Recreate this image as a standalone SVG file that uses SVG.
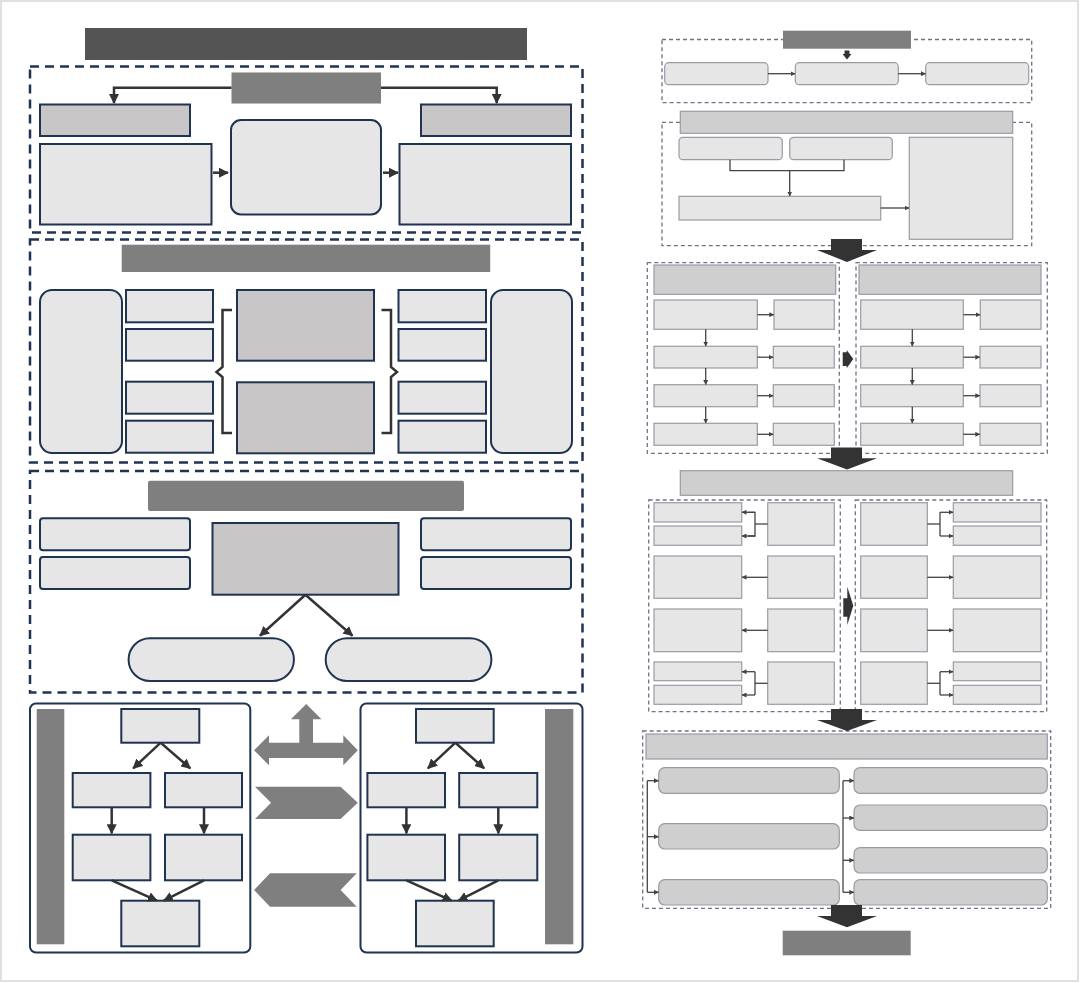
<svg xmlns="http://www.w3.org/2000/svg" width="1080" height="983" viewBox="0 0 1080 983">
<style>
.dl{fill:none;stroke:#1f3352;stroke-width:2.5;stroke-dasharray:9 6}
.dr{fill:none;stroke:#6f7385;stroke-width:1.3;stroke-dasharray:4 3}
.bl{fill:#e6e6e6;stroke:#1f3352;stroke-width:2}
.bm{fill:#c8c6c7;stroke:#1f3352;stroke-width:2}
.gr{fill:#7f7f7f}
.rl{fill:#e6e6e6;stroke:#9a9ba5;stroke-width:1.2}
.rm{fill:#d0cfd0;stroke:#9a9ba5;stroke-width:1.2}
.cl{fill:none;stroke:#333;stroke-width:2.5}
.cr{fill:none;stroke:#444;stroke-width:1.3}
.da{fill:#333}
</style>
<defs>
<marker id="aL" viewBox="0 0 10 10" refX="9" refY="5" markerWidth="10" markerHeight="10" markerUnits="userSpaceOnUse" orient="auto"><path d="M0,0 L10,5 L0,10 z" fill="#333"/></marker>
<marker id="aR" viewBox="0 0 10 10" refX="9" refY="5" markerWidth="5" markerHeight="5" markerUnits="userSpaceOnUse" orient="auto"><path d="M0,0 L10,5 L0,10 z" fill="#444"/></marker>
</defs>
<rect x="0" y="0" width="1080" height="983" fill="#fff"/>
<rect x="1" y="1" width="1077" height="980" fill="none" stroke="#e0e0e0" stroke-width="2"/>

<g id="left-title"><rect x="85" y="28" width="442" height="32" fill="#545454"/></g>

<!-- Section 1 -->
<g id="sec1"><rect class="dl" x="30" y="66.5" width="552.5" height="166"/></g>
<g id="s1-head"><rect class="gr" x="231.5" y="72.5" width="149.5" height="31"/></g>
<g id="s1-l-top"><rect class="bm" x="40" y="104.5" width="150" height="31.5"/></g>
<g id="s1-r-top"><rect class="bm" x="421" y="104.5" width="150" height="31.5"/></g>
<g id="s1-l-big"><rect class="bl" x="40" y="144" width="171.5" height="80.5"/></g>
<g id="s1-center"><rect class="bl" x="231" y="120" width="150" height="94.5" rx="10"/></g>
<g id="s1-r-big"><rect class="bl" x="399.5" y="144" width="171.5" height="80.5"/></g>

<!-- Section 2 -->
<g id="sec2"><rect class="dl" x="30" y="239.5" width="552.5" height="223"/></g>
<g id="s2-head"><rect class="gr" x="121.7" y="244.7" width="368.5" height="27.3"/></g>
<g id="s2-l-tall"><rect class="bl" x="40" y="290" width="82" height="163" rx="12"/></g>
<g id="s2-l1"><rect class="bl" x="126" y="290" width="87" height="32.3"/></g>
<g id="s2-l2"><rect class="bl" x="126" y="329" width="87" height="31.7"/></g>
<g id="s2-l3"><rect class="bl" x="126" y="381.7" width="87" height="32"/></g>
<g id="s2-l4"><rect class="bl" x="126" y="420.7" width="87" height="32"/></g>
<g id="s2-c1"><rect class="bm" x="237" y="290" width="137" height="70.7"/></g>
<g id="s2-c2"><rect class="bm" x="237" y="382.3" width="137" height="71"/></g>
<g id="s2-r1"><rect class="bl" x="398.5" y="290" width="87.5" height="32.3"/></g>
<g id="s2-r2"><rect class="bl" x="398.5" y="329" width="87.5" height="31.7"/></g>
<g id="s2-r3"><rect class="bl" x="398.5" y="381.7" width="87.5" height="32"/></g>
<g id="s2-r4"><rect class="bl" x="398.5" y="420.7" width="87.5" height="32"/></g>
<g id="s2-r-tall"><rect class="bl" x="491" y="290" width="81" height="163" rx="12"/></g>

<!-- Section 3 -->
<g id="sec3"><rect class="dl" x="30" y="471" width="552.5" height="221.5"/></g>
<g id="s3-head"><rect class="gr" x="148" y="480.7" width="316" height="30.3" rx="2"/></g>
<g id="s3-l1"><rect class="bl" x="40" y="518.3" width="150" height="32" rx="3"/></g>
<g id="s3-l2"><rect class="bl" x="40" y="557" width="150" height="32" rx="3"/></g>
<g id="s3-r1"><rect class="bl" x="421" y="518.3" width="150" height="32" rx="3"/></g>
<g id="s3-r2"><rect class="bl" x="421" y="557" width="150" height="32" rx="3"/></g>
<g id="s3-center"><rect class="bm" x="212.5" y="523" width="186" height="71.7"/></g>
<g id="s3-pill-l"><rect class="bl" x="128.6" y="638.3" width="165.3" height="42.7" rx="21.3"/></g>
<g id="s3-pill-r"><rect class="bl" x="325.7" y="638.3" width="165.7" height="42.7" rx="21.3"/></g>

<!-- Bottom panels -->
<g id="panel-l"><rect x="30" y="703.5" width="220.3" height="249" rx="6" fill="#fff" stroke="#1f3352" stroke-width="2"/></g>
<g id="bar-l"><rect class="gr" x="36.7" y="709" width="27.6" height="235.3"/></g>
<g id="pl-top"><rect class="bl" x="121.3" y="709" width="78" height="33.7"/></g>
<g id="pl-a"><rect class="bl" x="72.7" y="773" width="77.7" height="34.3"/></g>
<g id="pl-b"><rect class="bl" x="165" y="773" width="77" height="34.3"/></g>
<g id="pl-c"><rect class="bl" x="72.7" y="834.7" width="77.7" height="45.6"/></g>
<g id="pl-d"><rect class="bl" x="165" y="834.7" width="77" height="45.6"/></g>
<g id="pl-bot"><rect class="bl" x="121.3" y="900.7" width="78" height="45.6"/></g>

<g id="panel-r"><rect x="360.5" y="703.5" width="222" height="249" rx="6" fill="#fff" stroke="#1f3352" stroke-width="2"/></g>
<g id="bar-r"><rect class="gr" x="545" y="709" width="28.3" height="235.3"/></g>
<g id="pr-top"><rect class="bl" x="416" y="709" width="77.7" height="33.7"/></g>
<g id="pr-a"><rect class="bl" x="367.4" y="773" width="77.6" height="34.3"/></g>
<g id="pr-b"><rect class="bl" x="459.2" y="773" width="78.1" height="34.3"/></g>
<g id="pr-c"><rect class="bl" x="367.4" y="834.7" width="77.6" height="45.6"/></g>
<g id="pr-d"><rect class="bl" x="459.2" y="834.7" width="78.1" height="45.6"/></g>
<g id="pr-bot"><rect class="bl" x="416" y="900.7" width="77.7" height="45.6"/></g>

<g id="mid-arrows">
<polygon class="gr" points="306.2,704 321.5,719.3 313,719.3 313,742.7 343.3,742.7 343.3,735.3 357.8,750.3 343.3,765.3 343.3,758 269,758 269,765.3 254.1,750.3 269,735.3 269,742.7 299.3,742.7 299.3,719.3 290.9,719.3"/>
<polygon class="gr" points="255,786.7 340.6,786.7 357.8,802.8 340.6,819 255,819 271,802.8"/>
<polygon class="gr" points="254.1,890 270,873.3 356.7,873.3 340.6,890 356.7,906.7 270,906.7"/>
</g>

<!-- Right side -->
<g id="secA"><rect class="dr" x="662" y="39.5" width="369.7" height="63.2"/></g>
<g id="A-head"><rect class="gr" x="783" y="30.7" width="128" height="18"/></g>
<g id="A1"><rect class="rl" x="664.7" y="62.7" width="103.3" height="22" rx="4"/></g>
<g id="A2"><rect class="rl" x="795.3" y="62.7" width="103" height="22" rx="4"/></g>
<g id="A3"><rect class="rl" x="925.7" y="62.7" width="103" height="22" rx="4"/></g>

<g id="secB"><rect class="dr" x="662" y="122.3" width="369.7" height="123.4"/></g>
<g id="B-head"><rect class="rm" x="680.3" y="111.3" width="332.4" height="22"/></g>
<g id="B1"><rect class="rl" x="679" y="137.3" width="103.3" height="22.4" rx="4"/></g>
<g id="B2"><rect class="rl" x="789.7" y="137.3" width="102.6" height="22.4" rx="4"/></g>
<g id="B3"><rect class="rl" x="679" y="196.3" width="201.7" height="23.7"/></g>
<g id="B4"><rect class="rl" x="909.3" y="137.3" width="103.4" height="102"/></g>

<g id="secC-l"><rect class="dr" x="647.3" y="262.7" width="192" height="190.6"/></g>
<g id="secC-r"><rect class="dr" x="856" y="262.7" width="191.3" height="190.6"/></g>
<g id="C-head-l"><rect class="rm" x="654" y="265" width="181.7" height="29.3"/></g>
<g id="C-head-r"><rect class="rm" x="859" y="265" width="182" height="29.3"/></g>
<g id="C-l1"><rect class="rl" x="654" y="300" width="103.3" height="29.3"/><rect class="rl" x="774" y="300" width="60.3" height="29.3"/></g>
<g id="C-l2"><rect class="rl" x="654" y="346.3" width="103.3" height="21.7"/><rect class="rl" x="773.3" y="346.3" width="61" height="21.7"/></g>
<g id="C-l3"><rect class="rl" x="654" y="384.7" width="103.3" height="22"/><rect class="rl" x="773.3" y="384.7" width="61" height="22"/></g>
<g id="C-l4"><rect class="rl" x="654" y="423.3" width="103.3" height="22"/><rect class="rl" x="773.3" y="423.3" width="61" height="22"/></g>
<g id="C-r1"><rect class="rl" x="860.7" y="300" width="102.6" height="29.3"/><rect class="rl" x="980.3" y="300" width="60.7" height="29.3"/></g>
<g id="C-r2"><rect class="rl" x="860.7" y="346.3" width="102.6" height="21.7"/><rect class="rl" x="980" y="346.3" width="61" height="21.7"/></g>
<g id="C-r3"><rect class="rl" x="860.7" y="384.7" width="102.6" height="22"/><rect class="rl" x="980" y="384.7" width="61" height="22"/></g>
<g id="C-r4"><rect class="rl" x="860.7" y="423.3" width="102.6" height="22"/><rect class="rl" x="980" y="423.3" width="61" height="22"/></g>

<g id="D-head"><rect class="rm" x="680.3" y="470.7" width="332.4" height="24.6"/></g>
<g id="secD-l"><rect class="dr" x="648.7" y="500" width="191.6" height="211.7"/></g>
<g id="secD-r"><rect class="dr" x="855.3" y="500" width="191.4" height="211.7"/></g>
<g id="D-l1"><rect class="rl" x="654" y="502.7" width="87.7" height="19.3"/><rect class="rl" x="654" y="526" width="87.7" height="19.3"/><rect class="rl" x="767.7" y="502.7" width="66.6" height="42.6"/></g>
<g id="D-l2"><rect class="rl" x="654" y="556" width="87.7" height="42.3"/><rect class="rl" x="767.7" y="556" width="66.6" height="42.3"/></g>
<g id="D-l3"><rect class="rl" x="654" y="609" width="87.7" height="42.7"/><rect class="rl" x="767.7" y="609" width="66.6" height="42.7"/></g>
<g id="D-l4"><rect class="rl" x="654" y="662" width="87.7" height="18.7"/><rect class="rl" x="654" y="685.3" width="87.7" height="19"/><rect class="rl" x="767.7" y="662" width="66.6" height="42.3"/></g>
<g id="D-r1"><rect class="rl" x="860.7" y="502.7" width="66.6" height="42.6"/><rect class="rl" x="953.3" y="502.7" width="87.7" height="19.3"/><rect class="rl" x="953.3" y="526" width="87.7" height="19.3"/></g>
<g id="D-r2"><rect class="rl" x="860.7" y="556" width="66.6" height="42.3"/><rect class="rl" x="953.3" y="556" width="87.7" height="42.3"/></g>
<g id="D-r3"><rect class="rl" x="860.7" y="609" width="66.6" height="42.7"/><rect class="rl" x="953.3" y="609" width="87.7" height="42.7"/></g>
<g id="D-r4"><rect class="rl" x="860.7" y="662" width="66.6" height="42.3"/><rect class="rl" x="953.3" y="662" width="87.7" height="18.7"/><rect class="rl" x="953.3" y="685.3" width="87.7" height="19"/></g>

<g id="secE"><rect class="dr" x="642.7" y="731" width="408" height="177.3"/></g>
<g id="E-head"><rect class="rm" x="646" y="734" width="401.3" height="25"/></g>
<g id="E-l1"><rect class="rm" x="658.7" y="767.7" width="180.6" height="25.6" rx="6"/></g>
<g id="E-l2"><rect class="rm" x="658.7" y="823.7" width="180.6" height="25.3" rx="6"/></g>
<g id="E-l3"><rect class="rm" x="658.7" y="879.7" width="180.6" height="25.3" rx="6"/></g>
<g id="E-r1"><rect class="rm" x="854" y="767.7" width="193.3" height="25.6" rx="6"/></g>
<g id="E-r2"><rect class="rm" x="854" y="805" width="193.3" height="25.3" rx="6"/></g>
<g id="E-r3"><rect class="rm" x="854" y="847.7" width="193.3" height="25.3" rx="6"/></g>
<g id="E-r4"><rect class="rm" x="854" y="879.7" width="193.3" height="25.3" rx="6"/></g>
<g id="footer"><rect class="gr" x="782.7" y="930.7" width="128" height="24.6"/></g>

<g id="block-arrows">
<polygon class="da" points="844.5,50.5 849.5,50.5 849.5,54 851.5,54 847,59.5 842.5,54 844.5,54"/>
<polygon class="da" points="831,239 862,239 862,250 877,250 847,262 817,250 831,250"/>
<polygon class="da" points="831,447.5 862,447.5 862,458.3 877,458.3 847,469.5 817,458.3 831,458.3"/>
<polygon class="da" points="831,709 862,709 862,720 877,720 847,731 817,720 831,720"/>
<polygon class="da" points="831,905 862,905 862,916 877,916 847,927.3 817,916 831,916"/>
<polygon class="da" points="842.7,352.3 846.7,352.3 846.7,350 853.3,359 846.7,368.3 846.7,366 842.7,366"/>
<polygon class="da" points="843.3,598.3 847.3,598.3 847.3,586.7 853.3,605.7 847.3,625 847.3,616.7 843.3,616.7"/>
</g>

<g id="connectors">
<polyline class="cl" points="231.5,87.7 114,87.7 114,103" marker-end="url(#aL)"/>
<polyline class="cl" points="381,87.7 496.7,87.7 496.7,103" marker-end="url(#aL)"/>
<line class="cl" x1="213" y1="172.7" x2="228" y2="172.7" stroke-width="4" marker-end="url(#aL)"/>
<line class="cl" x1="383" y1="172.7" x2="398" y2="172.7" stroke-width="4" marker-end="url(#aL)"/>
<path class="cl" stroke-width="3" d="M232,310 H222.5 V367 L216.5,372 L222.5,377 V433 H232"/>
<path class="cl" stroke-width="3" d="M381.5,310 H391 V367 L397,372 L391,377 V433 H381.5"/>
<line class="cl" x1="305.4" y1="594.7" x2="260" y2="635.7" marker-end="url(#aL)"/>
<line class="cl" x1="305.4" y1="594.7" x2="352.5" y2="635.7" marker-end="url(#aL)"/>
<line class="cl" x1="160.7" y1="742.7" x2="133.2" y2="768.3" marker-end="url(#aL)"/>
<line class="cl" x1="160.7" y1="742.7" x2="190.2" y2="768.3" marker-end="url(#aL)"/>
<line class="cl" x1="111.7" y1="807.3" x2="111.7" y2="833.3" marker-end="url(#aL)"/>
<line class="cl" x1="204" y1="807.3" x2="204" y2="833.3" marker-end="url(#aL)"/>
<line class="cl" x1="111.7" y1="880.3" x2="156.9" y2="900.7" marker-end="url(#aL)"/>
<line class="cl" x1="204" y1="880.3" x2="163.8" y2="900.7" marker-end="url(#aL)"/>
<line class="cl" x1="455.4" y1="742.7" x2="427.9" y2="768.3" marker-end="url(#aL)"/>
<line class="cl" x1="455.4" y1="742.7" x2="484.1" y2="768.3" marker-end="url(#aL)"/>
<line class="cl" x1="406.4" y1="807.3" x2="406.4" y2="833.3" marker-end="url(#aL)"/>
<line class="cl" x1="498.3" y1="807.3" x2="498.3" y2="833.3" marker-end="url(#aL)"/>
<line class="cl" x1="406.4" y1="880.3" x2="451.6" y2="900.7" marker-end="url(#aL)"/>
<line class="cl" x1="498.3" y1="880.3" x2="458.5" y2="900.7" marker-end="url(#aL)"/>

<line class="cr" x1="768" y1="73.7" x2="795" y2="73.7" marker-end="url(#aR)"/>
<line class="cr" x1="898.3" y1="73.7" x2="925.5" y2="73.7" marker-end="url(#aR)"/>
<polyline class="cr" points="730,159.7 730,170.7 844,170.7 844,159.7"/>
<line class="cr" x1="789.7" y1="170.7" x2="789.7" y2="196" marker-end="url(#aR)"/>
<line class="cr" x1="880.7" y1="208" x2="909" y2="208" marker-end="url(#aR)"/>

<line class="cr" x1="757.3" y1="314.7" x2="773.8" y2="314.7" marker-end="url(#aR)"/>
<line class="cr" x1="757.3" y1="357.2" x2="773.1" y2="357.2" marker-end="url(#aR)"/>
<line class="cr" x1="757.3" y1="395.7" x2="773.1" y2="395.7" marker-end="url(#aR)"/>
<line class="cr" x1="757.3" y1="434.3" x2="773.1" y2="434.3" marker-end="url(#aR)"/>
<line class="cr" x1="705.7" y1="329.3" x2="705.7" y2="346.1" marker-end="url(#aR)"/>
<line class="cr" x1="705.7" y1="368" x2="705.7" y2="384.5" marker-end="url(#aR)"/>
<line class="cr" x1="705.7" y1="406.7" x2="705.7" y2="423.1" marker-end="url(#aR)"/>
<line class="cr" x1="963.3" y1="314.7" x2="980.1" y2="314.7" marker-end="url(#aR)"/>
<line class="cr" x1="963.3" y1="357.2" x2="979.8" y2="357.2" marker-end="url(#aR)"/>
<line class="cr" x1="963.3" y1="395.7" x2="979.8" y2="395.7" marker-end="url(#aR)"/>
<line class="cr" x1="963.3" y1="434.3" x2="979.8" y2="434.3" marker-end="url(#aR)"/>
<line class="cr" x1="912.3" y1="329.3" x2="912.3" y2="346.1" marker-end="url(#aR)"/>
<line class="cr" x1="912.3" y1="368" x2="912.3" y2="384.5" marker-end="url(#aR)"/>
<line class="cr" x1="912.3" y1="406.7" x2="912.3" y2="423.1" marker-end="url(#aR)"/>

<line class="cr" x1="767.7" y1="524" x2="755" y2="524"/>
<polyline class="cr" points="748,512.3 755,512.3 755,536 748,536"/>
<line class="cr" x1="755" y1="512.3" x2="742" y2="512.3" marker-end="url(#aR)"/>
<line class="cr" x1="755" y1="536" x2="742" y2="536" marker-end="url(#aR)"/>
<line class="cr" x1="767.7" y1="577.3" x2="742" y2="577.3" marker-end="url(#aR)"/>
<line class="cr" x1="767.7" y1="630.3" x2="742" y2="630.3" marker-end="url(#aR)"/>
<line class="cr" x1="767.7" y1="683.3" x2="755" y2="683.3"/>
<line class="cr" x1="755" y1="671.7" x2="755" y2="695"/>
<line class="cr" x1="755" y1="671.7" x2="742" y2="671.7" marker-end="url(#aR)"/>
<line class="cr" x1="755" y1="695" x2="742" y2="695" marker-end="url(#aR)"/>

<line class="cr" x1="927.3" y1="524" x2="940" y2="524"/>
<line class="cr" x1="940" y1="512.3" x2="940" y2="536"/>
<line class="cr" x1="940" y1="512.3" x2="953" y2="512.3" marker-end="url(#aR)"/>
<line class="cr" x1="940" y1="536" x2="953" y2="536" marker-end="url(#aR)"/>
<line class="cr" x1="927.3" y1="577.3" x2="953" y2="577.3" marker-end="url(#aR)"/>
<line class="cr" x1="927.3" y1="630.3" x2="953" y2="630.3" marker-end="url(#aR)"/>
<line class="cr" x1="927.3" y1="683.3" x2="940" y2="683.3"/>
<line class="cr" x1="940" y1="671.7" x2="940" y2="695"/>
<line class="cr" x1="940" y1="671.7" x2="953" y2="671.7" marker-end="url(#aR)"/>
<line class="cr" x1="940" y1="695" x2="953" y2="695" marker-end="url(#aR)"/>

<line class="cr" x1="647.3" y1="780.7" x2="647.3" y2="892.3"/>
<line class="cr" x1="647.3" y1="780.7" x2="658.5" y2="780.7" marker-end="url(#aR)"/>
<line class="cr" x1="647.3" y1="836.7" x2="658.5" y2="836.7" marker-end="url(#aR)"/>
<line class="cr" x1="647.3" y1="892.3" x2="658.5" y2="892.3" marker-end="url(#aR)"/>
<line class="cr" x1="843" y1="780.7" x2="843" y2="892.3"/>
<line class="cr" x1="843" y1="780.7" x2="853.8" y2="780.7" marker-end="url(#aR)"/>
<line class="cr" x1="843" y1="818" x2="853.8" y2="818" marker-end="url(#aR)"/>
<line class="cr" x1="843" y1="860.3" x2="853.8" y2="860.3" marker-end="url(#aR)"/>
<line class="cr" x1="843" y1="892.3" x2="853.8" y2="892.3" marker-end="url(#aR)"/>
</g>
</svg>
